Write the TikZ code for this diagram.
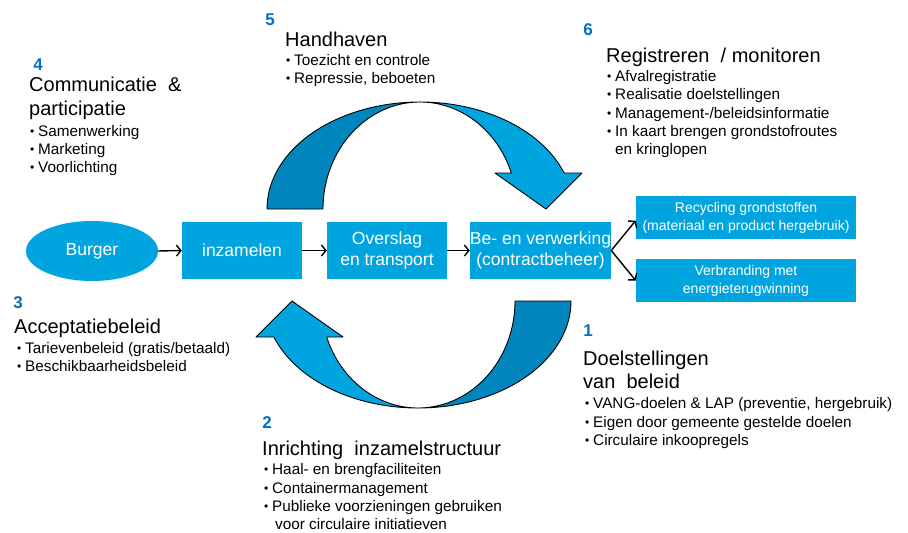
\documentclass[tikz,border=0pt]{standalone}
\usepackage{fontspec}
\setmainfont{Liberation Sans}
\usetikzlibrary{arrows.meta,shapes.geometric}
\definecolor{boxblue}{HTML}{00A5E0}
\definecolor{darkblue}{HTML}{0085BD}
\definecolor{numblue}{HTML}{0070C0}
\newcommand\hdfont{\fontsize{20}{24}\selectfont}
\newcommand\blfont{\fontsize{15.3}{18}\selectfont}
\newcommand\bxfont{\fontsize{17.5}{20.5}\selectfont}
\newcommand\smfont{\fontsize{14}{18}\selectfont}
\newcommand\nmfont{\fontsize{17}{20}\selectfont\bfseries}
\newcommand\bitem[4]{\node[bul] (#1) at (#2,#3) {\makebox[8pt][l]{\raisebox{0.3pt}{\fontsize{12}{12}\selectfont\textbullet}}#4};}
\newcommand\curvedarrowshape{%
  \draw[arrowline, fill=darkblue] plot[domain=180:90,samples=60] ({420+153*cos(\x)},{209-107*sin(\x)})
     -- plot[domain=90:180,samples=60] ({420+97*cos(\x)},{209-107*sin(\x)}) -- cycle;
  \draw[arrowline, fill=boxblue] plot[domain=90:19.66,samples=60] ({420+153*cos(\x)},{209-107*sin(\x)})
     -- (582,173) -- (546,209) -- (495,173)
     -- plot[domain=19.66:90,samples=60] ({420+97*cos(\x)},{209-107*sin(\x)}) -- cycle;
}
\begin{document}
\begin{tikzpicture}[x=1pt,y=-1pt,
  arrowline/.style={draw=black, line width=0.9pt, line join=round},
  flowbox/.style={rectangle, fill=boxblue, text=white, inner sep=0pt, align=center, font=\bxfont},
  smbox/.style={rectangle, fill=boxblue, text=white, inner sep=0pt, align=center, font=\smfont,
     minimum width=220pt, minimum height=43pt},
  conn/.style={draw=black, line width=1.4pt, -{Straight Barb[length=4.5pt,width=11pt,line width=1.4pt]}},
  num/.style={text=numblue, font=\nmfont, inner sep=0pt, anchor=center},
  head/.style={font=\hdfont, inner sep=0pt, anchor=base west},
  bul/.style={font=\blfont, inner sep=0pt, anchor=base west}]
\useasboundingbox (0,0) rectangle (908,533);
\fill[white] (0,0) rectangle (908,533);

% curved arrows
\curvedarrowshape
\begin{scope}[rotate around={180:(419,255)}]
\curvedarrowshape
\end{scope}

% flow
\node[ellipse, fill=boxblue, text=white, minimum width=132pt, minimum height=60pt, inner sep=0pt, font=\bxfont] (burger) at (92,251) {Burger};
\node[flowbox, minimum width=120pt, minimum height=57pt] (inz) at (242,250.5) {inzamelen};
\node[flowbox, minimum width=120pt, minimum height=57pt] (over) at (387,250.5) {Overslag\\en transport};
\node[flowbox, minimum width=133pt, minimum height=57pt] (bever) at (540.5,250.5) {Be- en verwerking\\(contractbeheer)};
\node[smbox] (recyc) at (746,217.5) {Recycling grondstoffen\\(materiaal en product hergebruik)};
\node[smbox] (verbr) at (746,280.5) {Verbranding met\\energieterugwinning};

\draw[conn] (burger.east) -- (inz.west);
\draw[conn] (inz.east) -- (over.west);
\draw[conn] (over.east) -- (bever.west);
\draw[conn] (bever.east) -- ([yshift=-3pt]recyc.west);
\draw[conn] (bever.east) -- (verbr.west);

% 5 Handhaven
\node[num] (n5) at (270,20) {5};
\node[head] (h5) at (285,46) {Handhaven};
\bitem{b51}{286}{65}{Toezicht en controle}
\bitem{b52}{286}{83}{Repressie, beboeten}

% 4 Communicatie
\node[num] (n4) at (38,65) {4};
\node[head] (h4a) at (29,91) {Communicatie \ \&};
\node[head] (h4b) at (29,115) {participatie};
\bitem{b41}{30}{136}{Samenwerking}
\bitem{b42}{30}{154}{Marketing}
\bitem{b43}{30}{172}{Voorlichting}

% 6 Registreren
\node[num] (n6) at (588,30) {6};
\node[head] (h6) at (606,62) {Registreren \ / monitoren};
\bitem{b61}{607}{81}{Afvalregistratie}
\bitem{b62}{607}{99}{Realisatie doelstellingen}
\bitem{b63}{607}{118}{Management-/beleidsinformatie}
\bitem{b64}{607}{136}{In kaart brengen grondstofroutes}
\node[bul] (b65) at (615,154) {en kringlopen};

% 3 Acceptatiebeleid
\node[num] (n3) at (18,303) {3};
\node[head] (h3) at (14,333) {Acceptatiebeleid};
\bitem{b31}{17}{353}{Tarievenbeleid (gratis/betaald)}
\bitem{b32}{17}{371}{Beschikbaarheidsbeleid}

% 2 Inrichting
\node[num] (n2) at (267,423) {2};
\node[head] (h2) at (262,455) {Inrichting \ inzamelstructuur};
\bitem{b21}{264}{474}{Haal- en brengfaciliteiten}
\bitem{b22}{264}{493}{Containermanagement}
\bitem{b23}{264}{511}{Publieke voorzieningen gebruiken}
\node[bul] (b24) at (275,529) {voor circulaire initiatieven};

% 1 Doelstellingen
\node[num] (n1) at (588,331) {1};
\node[head] (h1a) at (583,365) {Doelstellingen};
\node[head] (h1b) at (583,388) {van \ beleid};
\bitem{b11}{585}{408}{VANG-doelen \& LAP (preventie, hergebruik)}
\bitem{b12}{585}{427}{Eigen door gemeente gestelde doelen}
\bitem{b13}{585}{445}{Circulaire inkoopregels}
\end{tikzpicture}
\end{document}
